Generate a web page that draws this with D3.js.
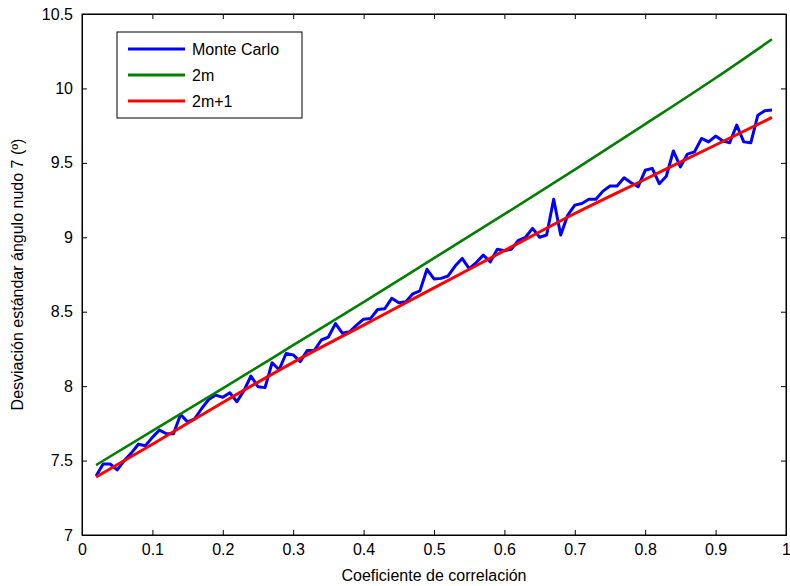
<!DOCTYPE html>
<html>
<head>
<meta charset="utf-8">
<script src="https://cdn.jsdelivr.net/npm/d3@7"></script>
<style>
body { margin: 0; background: #fff; }
text { font-family: "Liberation Sans", Arial, sans-serif; }
</style>
</head>
<body>
<script>
// correlation coefficient for the Monte Carlo run
var rho = [0.02,0.03,0.04,0.05,0.06,0.07,0.08,0.09,0.10,0.11,0.12,0.13,0.14,0.15,0.16,0.17,0.18,0.19,
	0.20,0.21,0.22,0.23,0.24,0.25,0.26,0.27,0.28,0.29,0.30,0.31,0.32,0.33,0.34,0.35,0.36,0.37,0.38,0.39,
	0.40,0.41,0.42,0.43,0.44,0.45,0.46,0.47,0.48,0.49,0.50,0.51,0.52,0.53,0.54,0.55,0.56,0.57,0.58,0.59,
	0.60,0.61,0.62,0.63,0.64,0.65,0.66,0.67,0.68,0.69,0.70,0.71,0.72,0.73,0.74,0.75,0.76,0.77,0.78,0.79,
	0.80,0.81,0.82,0.83,0.84,0.85,0.86,0.87,0.88,0.89,0.90,0.91,0.92,0.93,0.94,0.95,0.96,0.97,0.98];

var monteCarlo = [7.396,7.477,7.477,7.437,7.50,7.55,7.61,7.60,7.656,7.705,7.68,7.68,7.81,7.76,7.78,7.85,7.91,7.94,
	7.925,7.956,7.895,7.97,8.068,7.996,7.99,8.157,8.11,8.22,8.21,8.165,8.24,8.24,8.31,8.33,8.42,8.355,8.365,8.41,
	8.45,8.455,8.515,8.52,8.59,8.56,8.567,8.62,8.64,8.785,8.72,8.724,8.74,8.807,8.858,8.79,8.83,8.88,8.835,8.92,
	8.91,8.92,8.98,9.0,9.06,9.0,9.015,9.255,9.015,9.149,9.216,9.227,9.255,9.255,9.31,9.344,9.344,9.40,9.366,9.34,
	9.45,9.463,9.36,9.41,9.58,9.473,9.559,9.574,9.664,9.641,9.68,9.648,9.635,9.754,9.641,9.635,9.82,9.85,9.855];

// analytic approximations
var rhoFit = [0.02,0.10,0.20,0.30,0.40,0.50,0.60,0.70,0.80,0.90,0.98];
var twoM = [7.47,7.70,7.985,8.275,8.565,8.86,9.155,9.455,9.76,10.07,10.33];
var twoMplus1 = [7.39,7.61,7.89,8.16,8.41,8.66,8.91,9.16,9.39,9.62,9.805];

var xTicks = [0,0.1,0.2,0.3,0.4,0.5,0.6,0.7,0.8,0.9,1];
var yTicks = [7,7.5,8,8.5,9,9.5,10,10.5];

var seriesNames = ["Monte Carlo","2m","2m+1"];
var seriesColors = ["#0000ff","#008000","#ff0000"];

var width = 790, height = 586;
var margin = {top: 14, right: 4, bottom: 51, left: 82};
var plotW = width - margin.left - margin.right;
var plotH = height - margin.top - margin.bottom;

var svg = d3.select("body").append("svg")
	.attr("width", width)
	.attr("height", height)
	.append("g")
	.attr("transform", "translate(" + margin.left + "," + margin.top + ")");

var x = d3.scaleLinear().domain([0, 1]).range([0, plotW]);
var y = d3.scaleLinear().domain([7, 10.5]).range([plotH, 0]);

// bottom and left axes, ticks pointing inward like matlab
var xAxis = svg.append("g")
	.attr("transform", "translate(0," + plotH + ")")
	.call(d3.axisBottom(x).tickValues(xTicks).tickSize(-5).tickPadding(9).tickFormat(d3.format("")));

var yAxis = svg.append("g")
	.call(d3.axisLeft(y).tickValues(yTicks).tickSize(-5).tickPadding(9).tickFormat(d3.format("")));

// top and right axes, ticks only
var xTop = svg.append("g")
	.call(d3.axisTop(x).tickValues(xTicks).tickSize(-5).tickFormat(""));

var yRight = svg.append("g")
	.attr("transform", "translate(" + plotW + ",0)")
	.call(d3.axisRight(y).tickValues(yTicks).tickSize(-5).tickFormat(""));

svg.selectAll(".domain").attr("stroke", "#000");
svg.selectAll(".tick line").attr("stroke", "#000");
svg.selectAll(".tick text").attr("font-size", 16).attr("fill", "#000")
	.attr("font-family", "'Liberation Sans', Arial, sans-serif");

// box around the plot
svg.append("rect")
	.attr("x", 0)
	.attr("y", 0)
	.attr("width", plotW)
	.attr("height", plotH)
	.attr("fill", "none")
	.attr("stroke", "#000")
	.attr("stroke-width", 1);

var line = d3.line()
	.x(function(d) { return x(d[0]); })
	.y(function(d) { return y(d[1]); });

var smooth = d3.line()
	.x(function(d) { return x(d[0]); })
	.y(function(d) { return y(d[1]); })
	.curve(d3.curveMonotoneX);

// Monte Carlo
svg.append("path")
	.attr("d", line(d3.zip(rho, monteCarlo)))
	.attr("fill", "none")
	.attr("stroke", seriesColors[0])
	.attr("stroke-width", 3)
	.attr("stroke-linejoin", "round");

// 2m
svg.append("path")
	.attr("d", smooth(d3.zip(rhoFit, twoM)))
	.attr("fill", "none")
	.attr("stroke", seriesColors[1])
	.attr("stroke-width", 2.6);

// 2m+1
svg.append("path")
	.attr("d", smooth(d3.zip(rhoFit, twoMplus1)))
	.attr("fill", "none")
	.attr("stroke", seriesColors[2])
	.attr("stroke-width", 3);

// legend
var legend = svg.append("g")
	.attr("transform", "translate(35,18)");

legend.append("rect")
	.attr("x", 0)
	.attr("y", 0)
	.attr("width", 185)
	.attr("height", 86)
	.attr("fill", "#fff")
	.attr("stroke", "#000")
	.attr("stroke-width", 1);

seriesNames.forEach(function(name, i) {
	legend.append("line")
		.attr("x1", 11)
		.attr("x2", 68)
		.attr("y1", 17 + i * 26)
		.attr("y2", 17 + i * 26)
		.attr("stroke", seriesColors[i])
		.attr("stroke-width", 3);
	legend.append("text")
		.attr("x", 75)
		.attr("y", 17 + i * 26)
		.attr("dy", "0.35em")
		.attr("font-size", 16)
		.text(name);
});

// axis titles
svg.append("text")
	.attr("x", plotW / 2)
	.attr("y", plotH + 46)
	.attr("text-anchor", "middle")
	.attr("font-size", 16)
	.text("Coeficiente de correlación");

svg.append("text")
	.attr("transform", "translate(-59," + (plotH / 2) + ") rotate(-90)")
	.attr("text-anchor", "middle")
	.attr("font-size", 16)
	.text("Desviación estándar ángulo nudo 7 (º)");
</script>
</body>
</html>
